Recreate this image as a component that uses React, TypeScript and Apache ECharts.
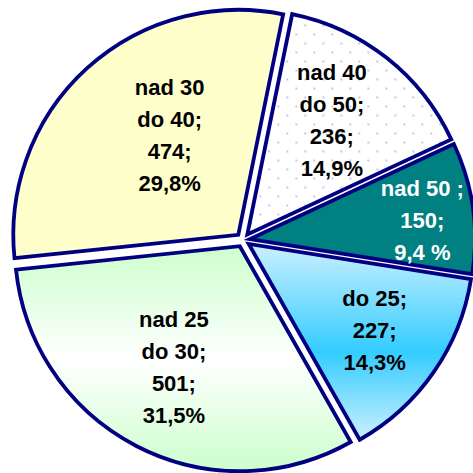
import React, { useEffect, useRef } from "react";
import * as echarts from "echarts";

const categories = ["nad 50 ", "do 25", "nad 25\ndo 30", "nad 30\ndo 40", "nad 40\ndo 50"];
const values = [150, 227, 501, 474, 236];
const percentLabels = ["9,4 %", "14,3%", "31,5%", "29,8%", "14,9%"];

const labelShift = [
  [58, -2],
  [31, 21],
  [-13, 19],
  [9, -14],
  [13, -23],
];

function makeDotPattern(): string {
  const c = document.createElement("canvas");
  c.width = 18;
  c.height = 18;
  const ctx = c.getContext("2d")!;
  ctx.fillStyle = "#ffffff";
  ctx.fillRect(0, 0, 18, 18);
  ctx.fillStyle = "#c4c4f4";
  ctx.fillRect(3, 3, 2, 2);
  ctx.fillRect(12, 12, 2, 2);
  return c.toDataURL();
}

export default function App() {
  const ref = useRef<HTMLDivElement>(null);
  useEffect(() => {
    if (!ref.current) return;
    const chart = echarts.init(ref.current, undefined, { renderer: "svg" });
    const dots = makeDotPattern();
    const fills: any[] = [
      "#008080",
      new echarts.graphic.LinearGradient(0, 0, 0, 1, [
        { offset: 0, color: "#ccf0ff" },
        { offset: 0.55, color: "#33ccff" },
        { offset: 1, color: "#ccf0ff" },
      ]),
      new echarts.graphic.LinearGradient(0, 0, 0, 1, [
        { offset: 0, color: "#ccffcc" },
        { offset: 0.5, color: "#ffffff" },
        { offset: 1, color: "#ccffcc" },
      ]),
      "#ffffcc",
      { image: dots, repeat: "repeat", imageWidth: 18, imageHeight: 18 },
    ];
    const labelColors = ["#ffffff", "#000000", "#000000", "#000000", "#000000"];
    const border = { borderColor: "#000080", borderWidth: 3.8, borderJoin: "miter" };
    chart.setOption({
      animation: false,
      backgroundColor: "#ffffff",
      series: [
        {
          type: "pie",
          center: [243, 240],
          radius: 225,
          startAngle: 25,
          clockwise: true,
          selectedMode: "multiple",
          selectedOffset: 7,
          avoidLabelOverlap: false,
          silent: true,
          emphasis: { disabled: true },
          labelLine: { show: false },
          label: {
            show: true,
            position: "inside",
            fontFamily: "Liberation Sans, Arial, sans-serif",
            fontWeight: "bold",
            fontSize: 22,
            lineHeight: 32,
            align: "center",
          },
          labelLayout: (params: any) => {
            const s = labelShift[params.dataIndex] || [0, 0];
            return { dx: s[0], dy: s[1] };
          },
          data: categories.map((name, i) => ({
            name,
            value: values[i],
            selected: true,
            itemStyle: { color: fills[i], ...border },
            select: { itemStyle: { color: fills[i], ...border }, label: { color: labelColors[i] } },
            label: {
              color: labelColors[i],
              formatter: () => `${name};\n${values[i]};\n${percentLabels[i]}`,
            },
          })),
        },
      ],
    });
    return () => chart.dispose();
  }, []);
  return (
    <div
      ref={ref}
      style={{ position: "fixed", left: 0, top: 0, width: 473, height: 473 }}
    />
  );
}
